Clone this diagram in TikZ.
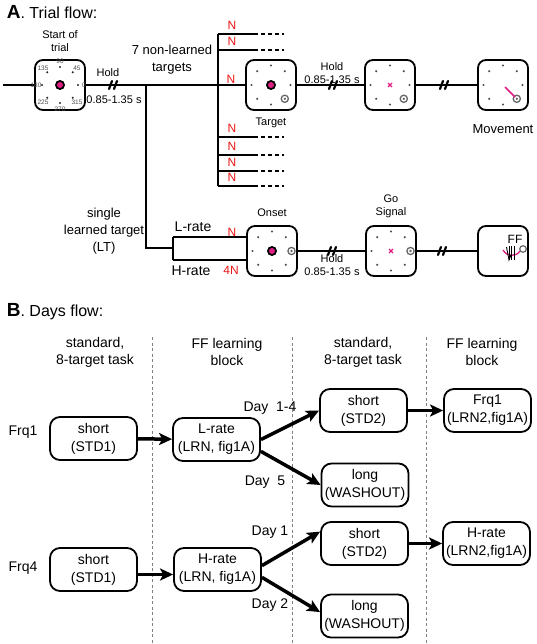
\documentclass[tikz,border=0pt]{standalone}
\usepackage{fontspec}
\setmainfont{Liberation Sans}
\usetikzlibrary{arrows.meta}
\definecolor{mag}{RGB}{222,30,130}
\definecolor{nred}{RGB}{235,20,20}
\begin{document}
\begin{tikzpicture}[x=1pt,y=-1pt,line width=1.7pt,>={Stealth[length=13pt,width=12pt,inset=3pt]},
    clock/.style={draw,line width=1.8pt,rounded corners=8pt,minimum size=50pt,inner sep=0pt},
    day/.style={draw,line width=1.8pt,rounded corners=10pt,minimum width=87pt,minimum height=43pt,inner sep=0pt,align=center,font=\fontsize{14}{18}\selectfont},
    big/.style={font=\fontsize{14}{17}\selectfont,align=center},
    mid/.style={font=\fontsize{13}{17}\selectfont,align=center},
    lil/.style={font=\fontsize{11}{13}\selectfont,align=center},
    nn/.style={text=nred,font=\fontsize{12}{12}\selectfont,inner sep=0pt},
    brk/.style={line width=2.2pt,line cap=round},
    fwd/.style={->,line width=3.5pt}]
\useasboundingbox (0,0) rectangle (537,644);
\node[anchor=base west,inner sep=0pt] (tA) at (6,19) {{\fontsize{19}{19}\selectfont\bfseries A}{\fontsize{16}{16}\selectfont. Trial flow:}};
\node[clock] (st) at (60,85) {};
\node[clock] (tg) at (271,85) {};
\node[clock] (pr) at (390,85) {};
\node[clock] (mv) at (503,85) {};
\node[clock] (on) at (272,251) {};
\node[clock] (go) at (391,251) {};
\node[clock] (ff) at (503,251) {};
\coordinate (in) at (3,85);
\coordinate (jn) at (146,85);
\coordinate (lt) at (173,248);
\coordinate (lr) at (173,237);
\coordinate (hr) at (173,260);
\coordinate (ft) at (218,34);
\coordinate (fb) at (218,186);
\draw (in) -- (st);
\draw (st) -- (tg);
\draw (tg) -- (pr);
\draw (pr) -- (mv);
\draw (jn) |- (lt);
\draw (lr) -- (hr);
\draw (lr) -- (lr -| on.west);
\draw (hr) -- (hr -| on.west);
\draw (on) -- (go);
\draw (go) -- (ff);
\draw (ft) -- (fb);
\foreach \y in {34,50,137,155,171,186}{
    \draw (218,\y) -- ++(36,0);
    \draw[dash pattern=on 4pt off 3pt] (254,\y) -- ++(30,0);
    \node[nn] (n\y) at (232,\y-9) {N};}
\foreach \x/\y in {113/85,333/85,444/85,332/251,442/251}
    \draw[brk] (\x-4,\y+4) -- (\x-1,\y-4) (\x+1,\y+4) -- (\x+4,\y-4);
% clock faces
\foreach \a in {0,45,...,315}{
    \fill[gray!30!black] (st.center) ++(\a:18pt) circle (1.1pt);
    \path (st.center) ++(\a:24pt) node[gray!60!black,font=\fontsize{6.5}{6.5}\selectfont,inner sep=0pt] (d\a) {\a};}
\foreach \b/\s in {tg/315,pr/315,mv/315,on/0,go/0}{
    \foreach \a in {0,45,...,315}{\ifnum\a=\s\else\fill[gray!60!black] (\b.center) ++(\a:19.5pt) circle (1.2pt);\fi}
    \draw[gray!80!black,line width=1.3pt] (\b.center) ++(\s:19.5pt) circle (3.6pt);
    \fill[gray!80!black] (\b.center) ++(\s:19.5pt) circle (1.3pt);}
\foreach \b in {st,tg,on}{
    \fill (\b.center) circle (5pt);
    \fill[mag] (\b.center) circle (3pt);}
\foreach \b in {pr,go}
    \draw[mag,line width=1.3pt] (\b.center) ++(-2pt,-2pt) -- ++(4pt,4pt) ++(-4pt,0) -- ++(4pt,-4pt);
\draw[mag,line width=1.5pt] (505,87) -- (515,97);
\node[font=\fontsize{12}{12}\selectfont,inner sep=0pt] (ffl) at (515,239) {FF};
\draw[mag,line width=1.3pt] (503,250) .. controls (507,257) and (516,257) .. (520,251);
\foreach \x in {509,511.5,514}
    \draw[line width=0.9pt] (\x,246) -- (\x,260);
\draw[line width=0.9pt] (506.5,247) -- (509,260) -- (511,255);
\draw[gray!80!black,line width=1.2pt] (523,249) circle (3.3pt);
% labels of trial flow
\node[lil] (sot) at (60,41) {Start of\\trial};
\node[lil] (hd1) at (108,73) {Hold};
\node[lil] (tm1) at (114,100) {0.85-1.35 s};
\node[mid] (nl) at (172,60) {7 non-learned\\targets};
\node[nn] (n85) at (231,79) {N};
\node[lil] (tgl) at (271,123) {Target};
\node[lil] (hd2) at (332,73.5) {Hold\\0.85-1.35 s};
\node[mid] (mvl) at (503,129) {Movement};
\node[mid] (slt) at (104,231) {single\\learned target\\(LT)};
\node[big] (lrl) at (193,227) {L-rate};
\node[big] (hrl) at (191,271) {H-rate};
\node[nn] (nl1) at (232,232) {N};
\node[nn] (nh1) at (231,270) {4N};
\node[lil] (onl) at (272,213) {Onset};
\node[lil] (hd3) at (332,265) {Hold\\0.85-1.35 s};
\node[lil] (gol) at (391,206) {Go\\Signal};
% days flow
\node[anchor=base west,inner sep=0pt] (tB) at (6,316) {{\fontsize{19}{19}\selectfont\bfseries B}{\fontsize{16}{16}\selectfont. Days flow:}};
\node[big] (c1) at (95,352) {standard,\\8-target task};
\node[big] (c2) at (227,352) {FF learning\\block};
\node[big] (c3) at (363,352) {standard,\\8-target task};
\node[big] (c4) at (482,352) {FF learning\\block};
\foreach \x in {152,292,426}
    \draw[gray,line width=0.8pt,dash pattern=on 3pt off 2.5pt] (\x,337) -- (\x,644);
\node[big] (fq1) at (23,432) {Frq1};
\node[big] (fq4) at (23,568) {Frq4};
\node[day] (std1a) at (93.5,438.5) {short\\(STD1)};
\node[day] (lrna) at (216.5,439.5) {L-rate\\(LRN, fig1A)};
\node[day] (std2a) at (363.5,410.5) {short\\(STD2)};
\node[day] (lrn2a) at (487.5,410.5) {Frq1\\(LRN2,fig1A)};
\node[day] (washa) at (365,485) {long\\(WASHOUT)};
\node[day] (std1b) at (93.5,569.5) {short\\(STD1)};
\node[day] (lrnb) at (217.5,569.5) {H-rate\\(LRN, fig1A)};
\node[day] (std2b) at (364.5,543.5) {short\\(STD2)};
\node[day] (lrn2b) at (486.5,543.5) {H-rate\\(LRN2,fig1A)};
\node[day] (washb) at (364.5,616) {long\\(WASHOUT)};
\draw[fwd] (std1a) -- (lrna);
\draw[fwd] (lrna.east) -- (std2a.west);
\draw[fwd] (lrna.-15) -- (washa.west);
\draw[fwd] (std2a) -- (lrn2a);
\draw[fwd] ([yshift=-5pt]std1b.east) -- ([yshift=-5pt]lrnb.west);
\draw[fwd] (lrnb.5) -- (std2b.165);
\draw[fwd] (lrnb.-10) -- (washb.175);
\draw[fwd] (std2b) -- (lrn2b);
\node[big] (dy14) at (270,408) {Day\ \ 1-4};
\node[big] (dy5) at (265,482) {Day\ \ 5};
\node[big] (dy1) at (270,532) {Day 1};
\node[big] (dy2) at (270,605) {Day 2};
\end{tikzpicture}
\end{document}
